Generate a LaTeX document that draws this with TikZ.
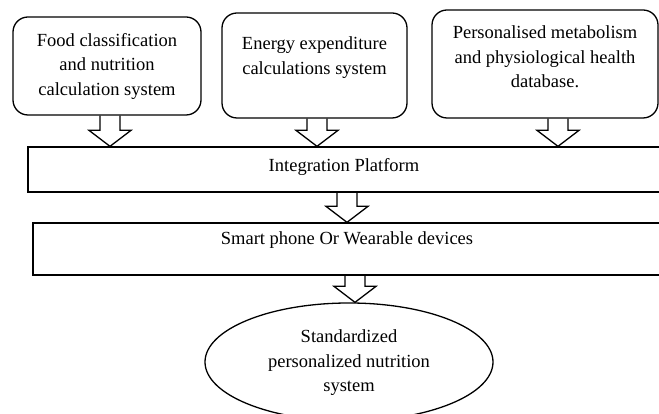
\documentclass[tikz,border=0pt]{standalone}
\usepackage{fontspec}
\setmainfont{Liberation Serif}
\usetikzlibrary{calc}
\usetikzlibrary{positioning}
\usetikzlibrary{shapes.geometric}

\begin{document}
\begin{tikzpicture} [x=1pt, y=1pt,
    line width=1.3pt,
    sysbox/.style = {draw, rounded corners=15pt},
    bar/.style = {draw, rectangle},
    txt/.style = {align=center, inner sep=0pt,
        font=\fontsize{18.5}{24.5}\selectfont},
    arrowline/.style = {draw, line join=miter}]

\newcommand{\shaftw}{10}
\newcommand{\headw}{21}
\newcommand{\headl}{16}

% hollow arrow from the bottom of #2 down to the top of #3
\newcommand{\blockarrow}[3][0]{
  \coordinate (top) at ([xshift=#1]#2.south);
  \coordinate (tip) at (top |- #3.north);
  \draw [arrowline] ($(top) + (-\shaftw,0)$) -- ($(tip) + (-\shaftw,\headl)$)
    -- ($(tip) + (-\headw,\headl)$) -- (tip) -- ($(tip) + (\headw,\headl)$)
    -- ($(tip) + (\shaftw,\headl)$) -- ($(top) + (\shaftw,0)$);
}

\useasboundingbox (0,0) rectangle (659,414);
\clip (0,0) rectangle (659,414);

% top row of systems
\node [sysbox, minimum width=188, minimum height=98] (food) at (107,348) {};
\node [txt] (foodtxt) at (food.center)
  {Food classification\\and nutrition\\calculation system};

\node [sysbox, minimum width=185, minimum height=105] (energy) at (314.5,348.5) {};
\node [txt] (energytxt) at ([yshift=8]energy.center)
  {Energy expenditure\\calculations system};

\node [sysbox, minimum width=226, minimum height=108] (health) at (545,350) {};
\node [txt] (healthtxt) at ([yshift=7]health.center)
  {Personalised metabolism\\and physiological health\\database.};

% platform and devices
\node [bar, minimum width=632, minimum height=45] (platform) at (344,244.5) {};
\node [txt] (platformtxt) at ([yshift=2.5]platform.center) {Integration Platform};

\node [bar, minimum width=628, minimum height=52] (smart) at (347,165) {};
\node [txt] (smarttxt) at ([yshift=9]smart.center) {Smart phone Or Wearable devices};

% result
\node [draw, ellipse, minimum width=288, minimum height=118] (goal) at (349,52) {};
\node [txt] (goaltxt) at ([yshift=-1]goal.center)
  {Standardized\\personalized nutrition\\system};

% arrows
\blockarrow[3]{food}{platform}
\blockarrow[2.5]{energy}{platform}
\blockarrow[13]{health}{platform}
\blockarrow[3]{platform}{smart}
\blockarrow[8]{smart}{goal}

\end{tikzpicture}
\end{document}
